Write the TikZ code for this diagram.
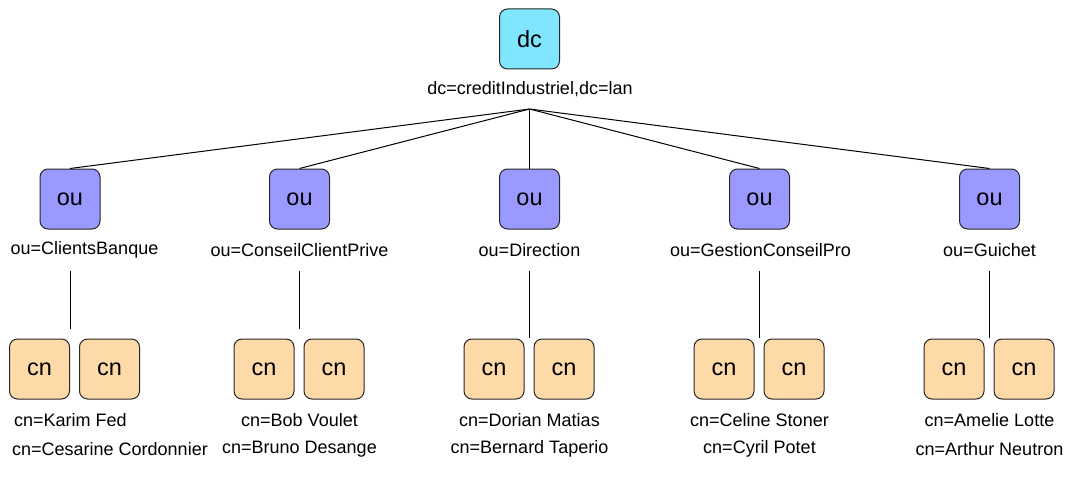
\documentclass[tikz,border=0pt]{standalone}
\usepackage{fontspec}
\setmainfont{Liberation Sans}
\begin{document}
\begin{tikzpicture}[x=1pt,y=-1pt,
  box/.style={draw=black!85,line width=1pt,rounded corners=8pt,minimum width=60pt,minimum height=60pt,inner sep=0pt,font=\fontsize{23.5}{27}\selectfont},
  dcbox/.style={box,fill=dcfill},
  oubox/.style={box,fill=oufill},
  cnbox/.style={box,fill=cnfill},
  lbl/.style={inner sep=0pt,font=\fontsize{18}{21}\selectfont},
  link/.style={line width=1pt,black}]
\definecolor{dcfill}{HTML}{80E5FF}
\definecolor{oufill}{HTML}{9999FF}
\definecolor{cnfill}{HTML}{FFDAA9}
\useasboundingbox (0,0) rectangle (1068,484);
% root
\node[dcbox] (dc) at (529.5,39) {dc};
\node[lbl] (dclbl) at (530,89) {dc=creditIndustriel,dc=lan};
\coordinate (apex) at (529.5,109);
% ou nodes
\foreach \n/\x/\t in {1/70/ClientsBanque,2/299.5/ConseilClientPrive,3/529.5/Direction,4/759.5/GestionConseilPro,5/989.5/Guichet}{
  \node[oubox] (ou\n) at (\x,199) {ou};
  \coordinate (vtop\n) at (\x,271);
  \draw[link] (apex) -- (ou\n.north);
}
\node[lbl] (oulbl1) at (84.5,250) {ou=ClientsBanque};
\node[lbl] (oulbl2) at (299.5,250) {ou=ConseilClientPrive};
\node[lbl] (oulbl3) at (529.5,250) {ou=Direction};
\node[lbl] (oulbl4) at (760.5,250) {ou=GestionConseilPro};
\node[lbl] (oulbl5) at (989.5,250) {ou=Guichet};
\coordinate (vbot1) at (70,329);
\coordinate (vbot2) at (299.5,329);
\coordinate (vbot3) at (529.5,338);
\coordinate (vbot4) at (759.5,338);
\coordinate (vbot5) at (989.5,338);
\foreach \n in {1,...,5}{\draw[link] (vtop\n) -- (vbot\n);}
% cn nodes
\foreach \n/\a/\b in {1/39.5/109.5,2/264/334,3/494/564,4/724/794,5/954/1024}{
  \node[cnbox] (cn\n a) at (\a,369) {cn};
  \node[cnbox] (cn\n b) at (\b,369) {cn};
}
\node[lbl,anchor=west] (p1a) at (14,420) {cn=Karim Fed};
\node[lbl,anchor=west] (p1b) at (12,449) {cn=Cesarine Cordonnier};
\node[lbl] (p2a) at (299.5,420) {cn=Bob Voulet};
\node[lbl] (p2b) at (299.5,449) {cn=Bruno Desange};
\node[lbl] (p3a) at (529.5,420) {cn=Dorian Matias};
\node[lbl] (p3b) at (529.5,449) {cn=Bernard Taperio};
\node[lbl] (p4a) at (759.5,420) {cn=Celine Stoner};
\node[lbl] (p4b) at (759.5,449) {cn=Cyril Potet};
\node[lbl] (p5a) at (989.5,420) {cn=Amelie Lotte};
\node[lbl] (p5b) at (989.5,449) {cn=Arthur Neutron};
\end{tikzpicture}
\end{document}
